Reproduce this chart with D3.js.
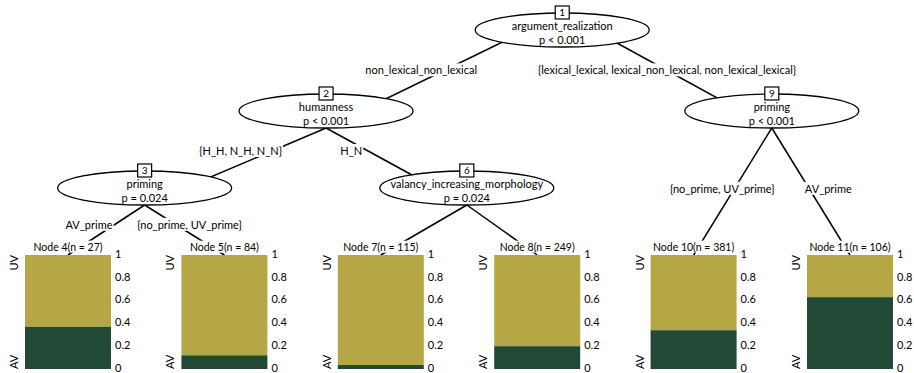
<!DOCTYPE html>
<html>
<head>
<meta charset="utf-8">
<script src="https://cdn.jsdelivr.net/npm/d3@7"></script>
<style>
  body { margin: 0; background: #fff; }
  svg { display: block; }
  text { font-family: Lato, "Open Sans", sans-serif; font-size: 11px; fill: #000; }
</style>
</head>
<body>
<svg id="chart" width="914" height="373"></svg>
<script>
// ---- Splitting nodes ----
const innerIds = [1, 2, 3, 6, 9];
const innerVars = ["argument_realization", "humanness", "priming", "valancy_increasing_morphology", "priming"];
const innerPvals = ["p < 0.001", "p < 0.001", "p = 0.024", "p = 0.024", "p < 0.001"];

// ---- Edges (parent -> child) and their split labels ----
const edgeFrom = [1, 1, 2, 2, 3, 3, 6, 6, 9, 9];
const edgeTo = [2, 9, 3, 6, 4, 5, 7, 8, 10, 11];
const edgeLabels = [
  "non_lexical_non_lexical",
  "{lexical_lexical, lexical_non_lexical, non_lexical_lexical}",
  "{H_H, N_H, N_N}",
  "H_N",
  "AV_prime",
  "{no_prime, UV_prime}",
  "",
  "",
  "{no_prime, UV_prime}",
  "AV_prime"
];

// ---- Terminal nodes: size and share of AV ----
const leafIds = [4, 5, 7, 8, 10, 11];
const leafN = [27, 84, 115, 249, 381, 106];
const leafAV = [0.37, 0.12, 0.035, 0.20, 0.34, 0.63];
const classLabels = ["AV", "UV"];
const tickValues = [0, 0.2, 0.4, 0.6, 0.8, 1];

// ---- Layout ----
const svg = d3.select("#chart");
const colX = d3.scaleLinear().domain([0, 5]).range([68, 850]);   // column -> x
const rowY = d3.scaleOrdinal().domain([0, 1, 2]).range([30, 111, 188]); // depth -> ellipse centre
const innerCol = { 1: 3.16, 2: 1.65, 3: 0.49, 6: 2.55, 9: 4.5 };
const labelT = { 1: 0.5, 2: 0.3, 3: 0.4, 6: 0.5, 9: 0.48 };
const labelShift = [-23, 0, -31, -17, -25, 13, 0, 0, -12, 19];
const rx = 87, ry = 17;
const barW = 86;
const y = d3.scaleLinear().domain([0, 1]).range([369, 255]);
const fill = d3.scaleOrdinal().domain(classLabels).range(["#224836", "#b5a745"]);

const parentOf = {};
edgeFrom.forEach((p, i) => { parentOf[edgeTo[i]] = p; });
const depthOf = id => (parentOf[id] === undefined ? 0 : 1 + depthOf(parentOf[id]));

const pos = {};
innerIds.forEach(id => { pos[id] = { x: colX(innerCol[id]), y: rowY(depthOf(id)), leaf: false, depth: depthOf(id) }; });
leafIds.forEach((id, i) => { pos[id] = { x: colX(i), y: y(1), leaf: true }; });

// ---- Edges ----
const edges = edgeFrom.map((p, i) => {
  const a = pos[p], b = pos[edgeTo[i]];
  const x1 = a.x, y1 = a.depth === 0 ? a.y - ry : a.y + ry;
  const x2 = b.x, y2 = b.leaf ? b.y : b.y + ry;
  const t = labelT[p];
  return { x1, y1, x2, y2, label: edgeLabels[i],
           lx: x1 + (x2 - x1) * t + labelShift[i], ly: y1 + (y2 - y1) * t };
});

svg.append("g").selectAll("line").data(edges).join("line")
  .attr("x1", d => d.x1).attr("y1", d => d.y1)
  .attr("x2", d => d.x2).attr("y2", d => d.y2)
  .attr("stroke", "#000").attr("stroke-width", 1.5);

const elab = svg.append("g").selectAll("g").data(edges.filter(d => d.label)).join("g")
  .attr("transform", d => `translate(${d.lx},${d.ly})`);
elab.append("rect").attr("fill", "#fff");
elab.append("text").attr("text-anchor", "middle").attr("dy", "0.35em").text(d => d.label);
elab.each(function () {
  const g = d3.select(this), bb = g.select("text").node().getBBox();
  g.select("rect").attr("x", bb.x - 1).attr("y", bb.y).attr("width", bb.width + 2).attr("height", bb.height);
});

// ---- Splitting nodes ----
const inner = svg.append("g").selectAll("g").data(innerIds).join("g")
  .attr("transform", id => `translate(${pos[id].x},${pos[id].y})`);
inner.append("ellipse").attr("rx", rx).attr("ry", ry)
  .attr("fill", "#fff").attr("stroke", "#000").attr("stroke-width", 1.3);
inner.append("text").attr("text-anchor", "middle").attr("y", -4).attr("dy", "0.35em")
  .text((id, i) => innerVars[i]);
inner.append("text").attr("text-anchor", "middle").attr("y", 10).attr("dy", "0.35em")
  .text((id, i) => innerPvals[i]);
inner.append("rect").attr("x", -7).attr("y", -ry - 7).attr("width", 14).attr("height", 13)
  .attr("fill", "#fff").attr("stroke", "#000").attr("stroke-width", 1.2);
inner.append("text").attr("text-anchor", "middle").attr("y", -ry - 0.5).attr("dy", "0.35em")
  .style("font-size", "10px").text(id => id);

// ---- Terminal nodes: stacked bars ----
const leaves = svg.append("g").selectAll("g").data(leafIds).join("g")
  .attr("transform", id => `translate(${pos[id].x},0)`);

leaves.append("rect").attr("x", -barW / 2).attr("width", barW)
  .attr("y", y(1)).attr("height", (id, i) => y(leafAV[i]) - y(1))
  .attr("fill", fill("UV"));
leaves.append("rect").attr("x", -barW / 2).attr("width", barW)
  .attr("y", (id, i) => y(leafAV[i])).attr("height", (id, i) => y(0) - y(leafAV[i]))
  .attr("fill", fill("AV"));

const head = leaves.append("g").attr("transform", "translate(0,247)");
head.append("rect").attr("fill", "#fff");
head.append("text").attr("text-anchor", "middle").attr("dy", "0.35em")
  .style("font-size", "10.5px")
  .text((id, i) => `Node ${id}(n = ${leafN[i]})`);
head.each(function () {
  const g = d3.select(this), bb = g.select("text").node().getBBox();
  g.select("rect").attr("x", bb.x - 1).attr("y", bb.y).attr("width", bb.width + 2).attr("height", bb.height);
});

// right-hand probability axis
leaves.each(function () {
  const g = d3.select(this);
  g.selectAll("text.tick").data(tickValues).join("text").attr("class", "tick")
    .attr("x", barW / 2 + 4).attr("y", v => y(v) - 1).attr("dy", "0.35em")
    .text(d3.format(""));
});

// class labels on the left
leaves.append("text").attr("text-anchor", "end")
  .attr("transform", `translate(${-barW / 2 - 7},${y(1)}) rotate(-90)`)
  .text(classLabels[1]);
leaves.append("text").attr("text-anchor", "start")
  .attr("transform", `translate(${-barW / 2 - 7},${y(0)}) rotate(-90)`)
  .text(classLabels[0]);
</script>
</body>
</html>
